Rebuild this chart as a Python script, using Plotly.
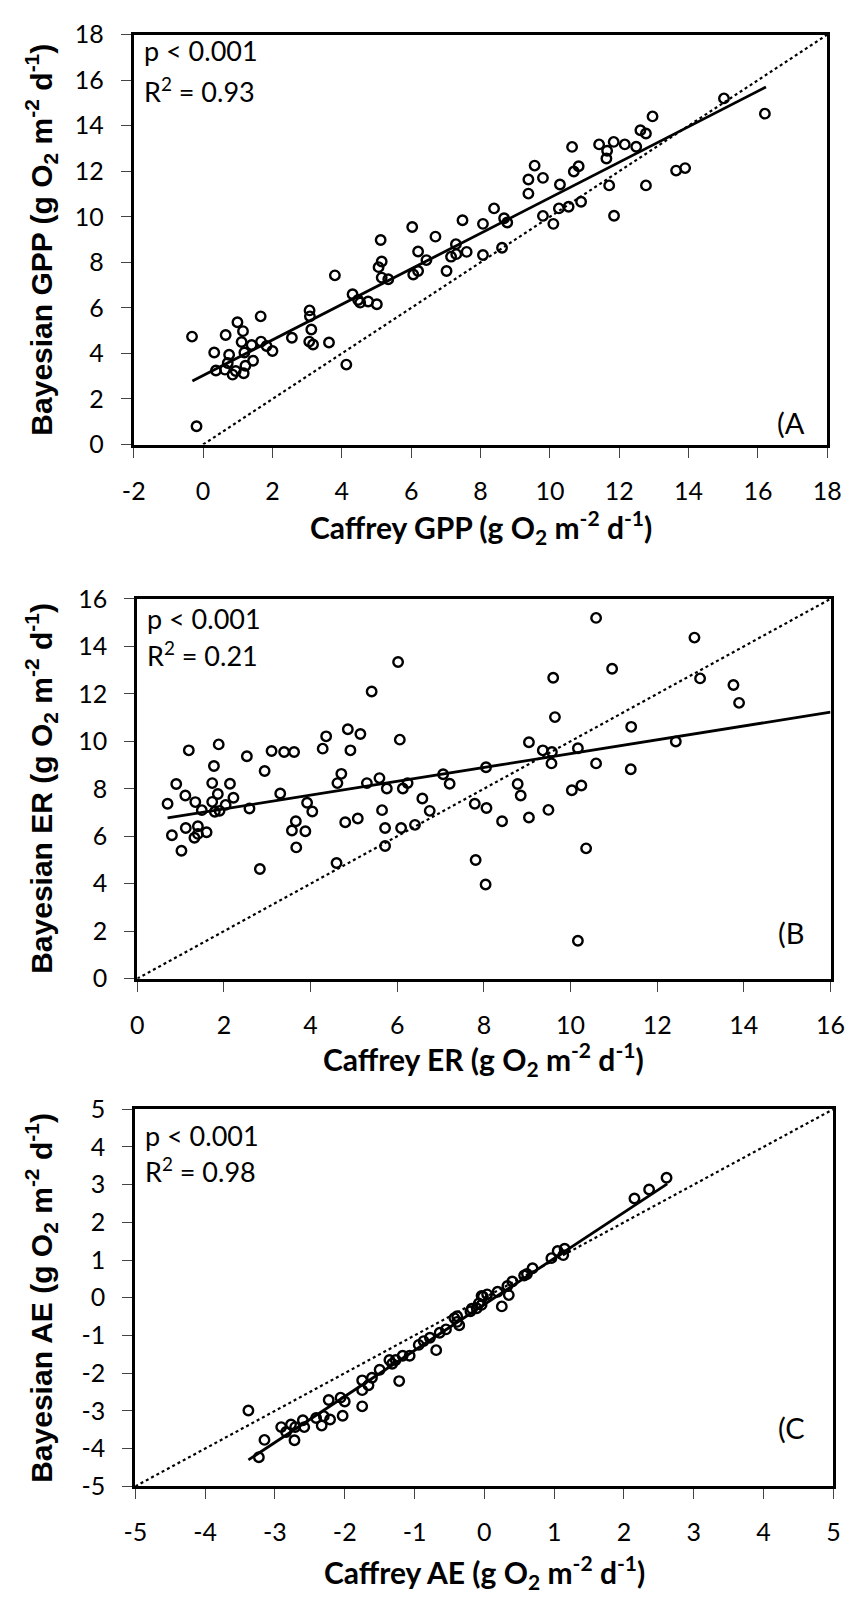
import plotly.graph_objects as go

# ---------------- Panel A: GPP ----------------
gpp_caffrey = [-0.32, -0.19, 0.32, 0.37, 0.65, 0.63, 0.75, 0.71, 0.85, 0.94, 0.99, 1.15, 1.11, 1.19, 1.17,
               1.22, 1.40, 1.44, 1.66, 1.67, 1.83, 2.00, 2.56, 3.07, 3.08, 3.12, 3.06, 3.17, 3.63, 3.80,
               4.13, 4.31, 4.47, 4.53, 4.76, 5.01, 5.12, 5.15, 5.06, 5.15, 5.34,
               6.03, 6.06, 6.20, 6.20, 6.44, 6.70, 7.02, 7.15, 7.29, 7.30, 7.48, 7.60,
               8.07, 8.07, 8.39, 8.62, 8.68, 8.77, 9.38, 9.38, 9.56, 9.80, 9.80, 10.10, 10.26, 10.54,
               10.29, 10.64, 10.69, 10.83, 10.90, 11.42, 11.63, 11.65, 11.71, 11.84, 11.85, 12.16, 12.49,
               12.61, 12.77, 12.77, 12.96, 13.64, 13.90, 15.02, 16.20]
gpp_bayes = [4.74, 0.80, 4.04, 3.25, 4.81, 3.29, 3.94, 3.58, 3.07, 3.23, 5.37, 4.98, 4.50, 4.04, 3.13,
             3.46, 4.37, 3.68, 5.63, 4.52, 4.33, 4.11, 4.69, 5.89, 5.63, 5.05, 4.52, 4.39, 4.48, 7.43,
             3.51, 6.60, 6.35, 6.23, 6.28, 6.16, 8.98, 8.04, 7.79, 7.33, 7.26,
             9.55, 7.47, 7.62, 8.48, 8.10, 9.13, 7.62, 8.25, 8.80, 8.36, 9.85, 8.46,
             9.69, 8.32, 10.37, 8.64, 9.94, 9.75, 11.02, 11.64, 12.25, 11.71, 10.04, 9.69, 10.37, 10.44,
             11.42, 13.07, 11.99, 12.22, 10.66, 13.18, 12.56, 12.90, 11.38, 13.29, 10.05, 13.18, 13.08,
             13.80, 13.66, 11.38, 14.41, 12.03, 12.14, 15.20, 14.53]
gpp_fit_x = [-0.31, 16.23]
gpp_fit_y = [2.79, 15.70]
gpp_one_to_one = [0, 18]
gpp_xticks = [-2, 0, 2, 4, 6, 8, 10, 12, 14, 16, 18]
gpp_yticks = [0, 2, 4, 6, 8, 10, 12, 14, 16, 18]

# ---------------- Panel B: ER ----------------
er_caffrey = [0.70, 0.80, 0.90, 1.02, 1.11, 1.12, 1.19, 1.34, 1.32, 1.40, 1.40, 1.49, 1.60, 1.73, 1.73,
              1.77, 1.79, 1.86, 1.88, 1.90, 2.04, 2.14, 2.22, 2.53, 2.59, 2.83, 2.94, 3.10, 3.30, 3.39,
              3.62, 3.66, 3.57, 3.67, 3.88, 3.92, 4.04, 4.28, 4.36, 4.60, 4.62, 4.71, 4.80, 4.86, 4.92,
              5.09, 5.15, 5.30, 5.41, 5.59, 5.65, 5.72, 5.72, 5.76, 6.02, 6.06, 6.09, 6.13, 6.24, 6.41,
              6.58, 6.75, 7.06, 7.21, 7.79, 7.81, 8.05, 8.06, 8.04, 8.42, 8.78, 8.85, 9.04, 9.04, 9.36,
              9.49, 9.57, 9.56, 9.60, 9.64, 10.03, 10.17, 10.25, 10.36, 10.59, 10.59, 10.96, 11.40, 11.39,
              12.43, 12.86, 12.99, 13.76, 13.89, 10.17]
er_bayes = [7.37, 6.04, 8.20, 5.39, 7.72, 6.35, 9.62, 7.44, 5.94, 6.42, 6.10, 7.10, 6.17, 8.24, 7.45,
            8.96, 7.03, 7.78, 9.87, 7.07, 7.32, 8.21, 7.62, 9.37, 7.17, 4.62, 8.75, 9.59, 7.80, 9.55,
            9.55, 6.63, 6.24, 5.53, 6.21, 7.41, 7.04, 9.69, 10.21, 4.87, 8.24, 8.63, 6.59, 10.51, 9.62,
            6.75, 10.31, 8.24, 12.10, 8.45, 7.10, 6.35, 5.59, 8.01, 13.34, 10.07, 6.35, 8.01, 8.24, 6.48,
            7.59, 7.07, 8.61, 8.21, 7.37, 5.00, 8.91, 7.19, 3.97, 6.63, 8.20, 7.72, 9.96, 6.79, 9.62,
            7.11, 9.55, 9.07, 12.68, 11.02, 7.94, 9.71, 8.14, 5.49, 9.07, 15.20, 13.06, 10.61, 8.82,
            9.99, 14.37, 12.65, 12.37, 11.62, 1.60]
er_fit_x = [0.70, 16.0]
er_fit_y = [6.77, 11.23]
er_one_to_one = [0, 16]
er_xticks = [0, 2, 4, 6, 8, 10, 12, 14, 16]
er_yticks = [0, 2, 4, 6, 8, 10, 12, 14, 16]

# ---------------- Panel C: AE ----------------
ae_caffrey = [-3.38, -3.23, -3.15, -2.91, -2.84, -2.77, -2.72, -2.71, -2.60, -2.58, -2.41, -2.33, -2.30,
              -2.21, -2.23, -2.06, -2.03, -2.00, -1.75, -1.75, -1.75, -1.66, -1.61, -1.50, -1.36, -1.32,
              -1.27, -1.17, -1.22, -1.07, -0.94, -0.87, -0.78, -0.69, -0.64, -0.55, -0.43, -0.39, -0.36,
              -0.39, -0.20, -0.18, -0.11, -0.08, -0.04, -0.04, -0.02, 0.04, 0.19, 0.25, 0.35, 0.33, 0.40,
              0.57, 0.61, 0.69, 0.96, 1.05, 1.13, 1.15, 2.15, 2.36, 2.61]
ae_bayes = [-2.99, -4.23, -3.77, -3.43, -3.56, -3.36, -3.78, -3.43, -3.25, -3.43, -3.19, -3.39, -3.14,
            -3.23, -2.71, -2.65, -3.13, -2.75, -2.88, -2.45, -2.19, -2.32, -2.12, -1.91, -1.65, -1.75,
            -1.65, -1.54, -2.21, -1.54, -1.25, -1.15, -1.06, -1.39, -0.93, -0.84, -0.54, -0.64, -0.73,
            -0.49, -0.36, -0.29, -0.28, -0.15, 0.05, -0.19, 0.03, 0.09, 0.16, -0.23, 0.07, 0.31, 0.43,
            0.59, 0.63, 0.78, 1.05, 1.24, 1.13, 1.30, 2.63, 2.87, 3.18]
ae_fit_x = [-3.38, 2.62]
ae_fit_y = [-4.30, 3.02]
ae_one_to_one = [-5, 5]
ae_xticks = [-5, -4, -3, -2, -1, 0, 1, 2, 3, 4, 5]
ae_yticks = [-5, -4, -3, -2, -1, 0, 1, 2, 3, 4, 5]

stats_text = [("p < 0.001", "R<sup>2</sup> = 0.93"),
              ("p < 0.001", "R<sup>2</sup> = 0.21"),
              ("p < 0.001", "R<sup>2</sup> = 0.98")]
panel_labels = ["(A", "(B", "(C"]
x_titles = ["Caffrey GPP (g O<sub>2</sub> m<sup>-2</sup> d<sup>-1</sup>)",
            "Caffrey ER (g O<sub>2</sub> m<sup>-2</sup> d<sup>-1</sup>)",
            "Caffrey AE (g O<sub>2</sub> m<sup>-2</sup> d<sup>-1</sup>)"]
y_titles = ["Bayesian GPP (g O<sub>2</sub> m<sup>-2</sup> d<sup>-1</sup>)",
            "Bayesian ER (g O<sub>2</sub> m<sup>-2</sup> d<sup>-1</sup>)",
            "Bayesian AE (g O<sub>2</sub> m<sup>-2</sup> d<sup>-1</sup>)"]

W, H = 861, 1605
CAL = "Lato"
ARB = "Liberation Sans"

panels = [
    dict(x=gpp_caffrey, y=gpp_bayes, fx=gpp_fit_x, fy=gpp_fit_y, one=gpp_one_to_one,
         xt=gpp_xticks, yt=gpp_yticks, xr=[-2, 18], yr=[0, 18],
         px=(125.7, 841.7), py=(19.0, 436.7), stat_y=(35, 75), lab_y=414, xtitle_y=521),
    dict(x=er_caffrey, y=er_bayes, fx=er_fit_x, fy=er_fit_y, one=er_one_to_one,
         xt=er_xticks, yt=er_yticks, xr=[0, 16], yr=[0, 16],
         px=(129.3, 845.0), py=(594.0, 981.0), stat_y=(614, 650), lab_y=934, xtitle_y=1063),
    dict(x=ae_caffrey, y=ae_bayes, fx=ae_fit_x, fy=ae_fit_y, one=ae_one_to_one,
         xt=ae_xticks, yt=ae_yticks, xr=[-5, 5], yr=[-5, 5],
         px=(127.3, 848.0), py=(1114.0, 1498.3), stat_y=(1141, 1176), lab_y=1438, xtitle_y=1586),
]

fig = go.Figure()
annotations = []
layout_axes = {}

for i, p in enumerate(panels):
    n = "" if i == 0 else str(i + 1)
    xa, ya = "x" + n, "y" + n
    fig.add_trace(go.Scatter(x=p["one"], y=p["one"], mode="lines", xaxis=xa, yaxis=ya,
                             line=dict(color="black", width=2.2, dash="dot"), hoverinfo="skip"))
    fig.add_trace(go.Scatter(x=p["x"], y=p["y"], mode="markers", xaxis=xa, yaxis=ya,
                             marker=dict(symbol="circle-open", size=9.5, color="black",
                                         line=dict(width=2.4, color="black"))))
    fig.add_trace(go.Scatter(x=p["fx"], y=p["fy"], mode="lines", xaxis=xa, yaxis=ya,
                             line=dict(color="black", width=2.8), hoverinfo="skip"))

    common = dict(showgrid=False, zeroline=False, showline=True, linewidth=3, linecolor="black",
                  mirror=True, ticks="outside", ticklen=10, tickwidth=1.3, tickcolor="#444",
                  tickfont=dict(family=CAL, size=25, color="black"), tickmode="array")
    layout_axes["xaxis" + n] = dict(common, domain=[p["px"][0] / W, p["px"][1] / W], range=p["xr"],
                                    tickvals=p["xt"], ticktext=[str(v) for v in p["xt"]],
                                    anchor=ya, ticklabelstandoff=12)
    layout_axes["yaxis" + n] = dict(common, domain=[1 - p["py"][1] / H, 1 - p["py"][0] / H], range=p["yr"],
                                    tickvals=p["yt"], ticktext=[str(v) for v in p["yt"]],
                                    anchor=xa, ticklabelstandoff=12)

    # stats
    annotations.append(dict(xref="paper", yref="paper", x=(p["px"][0] + 8) / W, y=1 - p["stat_y"][0] / H,
                            xanchor="left", yanchor="middle", showarrow=False, text=stats_text[i][0],
                            font=dict(family=CAL, size=27, color="black")))
    annotations.append(dict(xref="paper", yref="paper", x=(p["px"][0] + 8) / W, y=1 - p["stat_y"][1] / H,
                            xanchor="left", yanchor="middle", showarrow=False, text=stats_text[i][1],
                            font=dict(family=CAL, size=27, color="black")))
    annotations.append(dict(xref="paper", yref="paper", x=821 / W, y=1 - p["lab_y"] / H,
                            xanchor="right", yanchor="middle", showarrow=False, text=panel_labels[i],
                            font=dict(family=CAL, size=29, color="black")))
    # x title
    annotations.append(dict(xref="paper", yref="paper", x=(p["px"][0] + p["px"][1]) / 2 / W,
                            y=1 - p["xtitle_y"] / H, xanchor="center", yanchor="middle", showarrow=False,
                            text="<b>" + x_titles[i] + "</b>",
                            font=dict(family=CAL, size=30, color="black")))
    # y title
    annotations.append(dict(xref="paper", yref="paper", x=30 / W,
                            y=1 - (p["py"][0] + p["py"][1]) / 2 / H, xanchor="center", yanchor="middle",
                            showarrow=False, textangle=-90, text="<b>" + y_titles[i] + "</b>",
                            font=dict(family=ARB, size=30, color="black")))

fig.update_layout(width=W, height=H, margin=dict(l=0, r=0, t=0, b=0), showlegend=False,
                  plot_bgcolor="white", paper_bgcolor="white", annotations=annotations, **layout_axes)

fig.write_html("out.html")
